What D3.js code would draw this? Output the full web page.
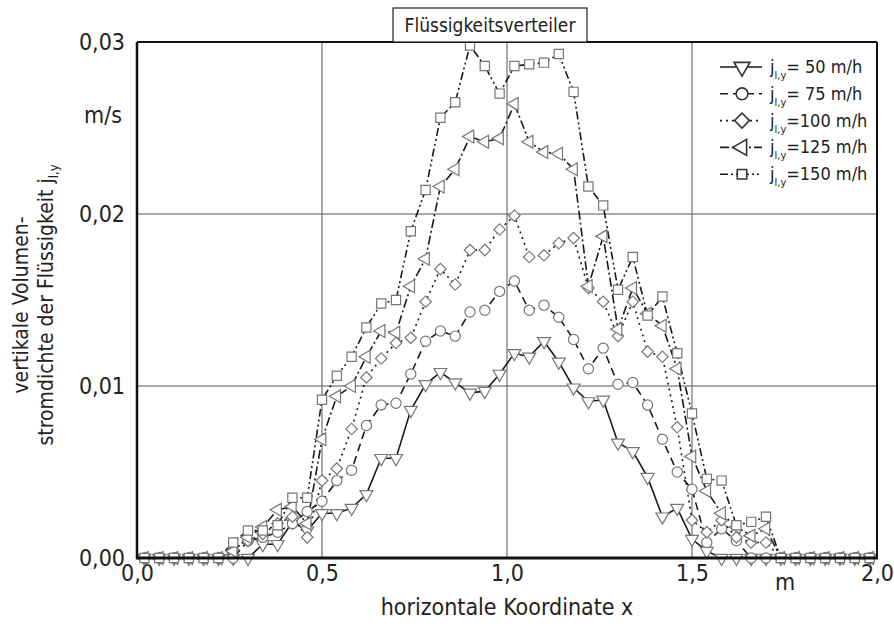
<!DOCTYPE html>
<html><head><meta charset="utf-8">
<script src="https://cdn.jsdelivr.net/npm/d3@7"></script>
<style>
body{margin:0;background:#fff;}
text{font-family:"DejaVu Sans Condensed","DejaVu Sans",sans-serif;fill:#222;}
</style></head>
<body><svg id="c" width="894" height="628"></svg>
<script>
const xs = [0.02,0.06,0.10,0.14,0.18,0.22,0.26,0.30,0.34,0.38,0.42,0.46,0.50,0.54,0.58,0.62,0.66,0.70,0.74,0.78,0.82,0.86,0.90,0.94,0.98,1.02,1.06,1.10,1.14,1.18,1.22,1.26,1.30,1.34,1.38,1.42,1.46,1.50,1.54,1.58,1.62,1.66,1.70,1.74,1.78,1.82,1.86,1.90,1.94,1.98];
const s50 = [0,0,0,0,0,0,0,0,0.0008,0.0008,0.0021,0.0016,0.0026,0.0026,0.0029,0.0037,0.0058,0.0058,0.0086,0.0101,0.0108,0.0102,0.0096,0.0097,0.0107,0.0119,0.0117,0.0126,0.0114,0.0099,0.0091,0.0092,0.0067,0.0062,0.0047,0.0024,0.0029,0.0011,0.0004,0,0,0,0,0,0,0,0,0,0,0];
const s75 = [0,0,0,0,0,0,0,0.0010,0.0012,0.0015,0.0020,0.0027,0.0033,0.0045,0.0051,0.0077,0.0089,0.0090,0.0107,0.0126,0.0132,0.0129,0.0143,0.0144,0.0155,0.0161,0.0144,0.0147,0.0140,0.0127,0.0110,0.0122,0.0101,0.0102,0.0089,0.0069,0.0050,0.0040,0.0009,0.0017,0.0010,0,0,0,0,0,0,0,0,0];
const s100 = [0,0,0,0,0,0,0.0005,0.0010,0.0014,0.0020,0.0024,0.0012,0.0045,0.0052,0.0075,0.0105,0.0116,0.0125,0.0128,0.0149,0.0168,0.0159,0.0179,0.0179,0.0191,0.0199,0.0175,0.0176,0.0183,0.0186,0.0157,0.0149,0.0129,0.0149,0.0120,0.0117,0.0076,0.0022,0.0015,0.0022,0.0012,0.0009,0.0009,0,0,0,0,0,0,0];
const s125 = [0,0,0,0,0,0,0.0004,0.0012,0.0018,0.0028,0.0030,0.0020,0.0069,0.0094,0.0100,0.0117,0.0132,0.0131,0.0158,0.0174,0.0216,0.0226,0.0245,0.0242,0.0244,0.0264,0.0242,0.0236,0.0235,0.0226,0.0158,0.0187,0.0133,0.0157,0.0142,0.0135,0.0110,0.0059,0.0039,0.0026,0.0018,0.0013,0.0017,0,0,0,0,0,0,0];
const s150 = [0,0,0,0,0,0,0.0009,0.0016,0.0016,0.0019,0.0035,0.0035,0.0092,0.0106,0.0117,0.0134,0.0148,0.0150,0.0190,0.0214,0.0256,0.0265,0.0298,0.0286,0.0270,0.0286,0.0287,0.0288,0.0293,0.0271,0.0216,0.0205,0.0156,0.0175,0.0141,0.0152,0.0119,0.0084,0.0046,0.0045,0.0019,0.0021,0.0024,0,0,0,0,0,0,0];
const seriesNames = ["= 50 m/h","= 75 m/h","=100 m/h","=125 m/h","=150 m/h"];
const xTicks = [0,0.5,1.0,1.5,2.0];
const yTicks = [0,0.01,0.02,0.03];
const title = "Flüssigkeitsverteiler";
const xLabel = "horizontale Koordinate x";
const yLabel1 = "vertikale Volumen-";
const yLabel2 = "stromdichte der Flüssigkeit j";

const series = [
  {name:seriesNames[0], values:s50,  symbol:"tdown",  dash:null},
  {name:seriesNames[1], values:s75,  symbol:"circle", dash:"8,5"},
  {name:seriesNames[2], values:s100, symbol:"diamond",dash:"2,4"},
  {name:seriesNames[3], values:s125, symbol:"tleft",  dash:"9,3,2,3"},
  {name:seriesNames[4], values:s150, symbol:"square", dash:"8,3,2,3,2,3"}
];

const svg = d3.select("#c");
const L=137,R=877,T=42,B=558;
const x = d3.scaleLinear().domain([0,2]).range([L,R]);
const y = d3.scaleLinear().domain([0,0.03]).range([B,T]);
const loc = d3.formatLocale({decimal:",",thousands:".",grouping:[3],currency:["","€"]});
const FONT = '"DejaVu Sans Condensed","DejaVu Sans",sans-serif';

// grid
const g = svg.append("g");
g.selectAll("line.vg").data(xTicks.slice(1,-1)).join("line")
  .attr("x1",d=>x(d)).attr("x2",d=>x(d)).attr("y1",T).attr("y2",B)
  .attr("stroke","#555").attr("stroke-width",1);
g.selectAll("line.hg").data(yTicks.slice(1,-1)).join("line")
  .attr("x1",L).attr("x2",R).attr("y1",d=>y(d)).attr("y2",d=>y(d))
  .attr("stroke","#555").attr("stroke-width",1);

// axes text via d3 axes
const xa = svg.append("g").attr("transform",`translate(0,${B})`)
  .call(d3.axisBottom(x).tickValues(xTicks).tickSize(0).tickPadding(7).tickFormat(loc.format(".1f")));
xa.select(".domain").remove();
xa.selectAll("text").attr("font-size",23).attr("font-family",FONT).attr("fill","#222");
const ya = svg.append("g").attr("transform",`translate(${L},0)`)
  .call(d3.axisLeft(y).tickValues(yTicks).tickSize(0).tickPadding(12).tickFormat(loc.format(".2f")));
ya.select(".domain").remove();
ya.selectAll("text").attr("font-size",23).attr("font-family",FONT).attr("fill","#222");

svg.append("text").attr("x",785).attr("y",590).attr("text-anchor","middle").attr("font-size",23).text("m");
svg.append("text").attr("x",103).attr("y",123).attr("text-anchor","middle").attr("font-size",23).text("m/s");
svg.append("text").attr("x",507).attr("y",615).attr("text-anchor","middle").attr("font-size",23).text(xLabel);
svg.append("text").attr("transform","translate(28,305) rotate(-90)").attr("text-anchor","middle").attr("font-size",21).text(yLabel1);
const yl2 = svg.append("text").attr("transform","translate(53,305) rotate(-90)").attr("text-anchor","middle").attr("font-size",21);
yl2.append("tspan").text(yLabel2);
yl2.append("tspan").attr("font-size",13).attr("dy",5).text("l,y");

// lines
const line = d3.line().x((d,i)=>x(xs[i])).y(d=>y(d));
svg.append("g").selectAll("path").data(series).join("path")
  .attr("d",d=>line(d.values)).attr("fill","none").attr("stroke","#1a1a1a")
  .attr("stroke-width",1.6).attr("stroke-dasharray",d=>d.dash);

function sym(type){
  if(type==="tdown") return d3.symbol(d3.symbolTriangle,72)();
  if(type==="tleft") return d3.symbol(d3.symbolTriangle,72)();
  if(type==="circle") return d3.symbol(d3.symbolCircle,82)();
  if(type==="diamond") return d3.symbol(d3.symbolSquare,66)();
  return d3.symbol(d3.symbolSquare,85)();
}
function rot(type){
  if(type==="tdown") return " rotate(180)";
  if(type==="tleft") return " rotate(-90)";
  if(type==="diamond") return " rotate(45)";
  return "";
}
series.forEach(s=>{
  svg.append("g").selectAll("path").data(s.values).join("path")
    .attr("d",sym(s.symbol))
    .attr("transform",(d,i)=>`translate(${x(xs[i])},${y(d)})${rot(s.symbol)}`)
    .attr("fill","#fff").attr("stroke","#777").attr("stroke-width",1.2);
});

// frame
svg.append("line").attr("x1",L).attr("x2",R).attr("y1",T).attr("y2",T).attr("stroke","#111").attr("stroke-width",2);
svg.append("line").attr("x1",R).attr("x2",R).attr("y1",T).attr("y2",B).attr("stroke","#111").attr("stroke-width",2);
svg.append("line").attr("x1",L).attr("x2",L).attr("y1",T).attr("y2",B+1).attr("stroke","#111").attr("stroke-width",2.5);
svg.append("line").attr("x1",L-1).attr("x2",R+1).attr("y1",B).attr("y2",B).attr("stroke","#111").attr("stroke-width",3);

// title box
svg.append("rect").attr("x",393).attr("y",8).attr("width",194).attr("height",34).attr("fill","#fff").attr("stroke","#222").attr("stroke-width",1.2);
svg.append("text").attr("x",490).attr("y",32).attr("text-anchor","middle").attr("font-size",19).text(title);

// legend
const lg = svg.append("g");
series.forEach((s,k)=>{
  const yy = 67 + k*26.8;
  lg.append("line").attr("x1",720).attr("x2",762).attr("y1",yy).attr("y2",yy)
    .attr("stroke","#1a1a1a").attr("stroke-width",1.6).attr("stroke-dasharray",s.dash);
  lg.append("path").attr("d",d3.symbol(s.symbol==="circle"?d3.symbolCircle:(s.symbol==="tdown"||s.symbol==="tleft"?d3.symbolTriangle:d3.symbolSquare), s.symbol==="square"?90:(s.symbol==="circle"?110:110))())
    .attr("transform",`translate(742,${yy})${rot(s.symbol)}`)
    .attr("fill","#fff").attr("stroke","#333").attr("stroke-width",1.6);
  const t = lg.append("text").attr("x",770).attr("y",yy+6).attr("font-size",18);
  t.append("tspan").text("j");
  t.append("tspan").attr("font-size",11).attr("dy",6).text("l,y");
  t.append("tspan").attr("dy",-6).text(s.name);
});
</script></body></html>
